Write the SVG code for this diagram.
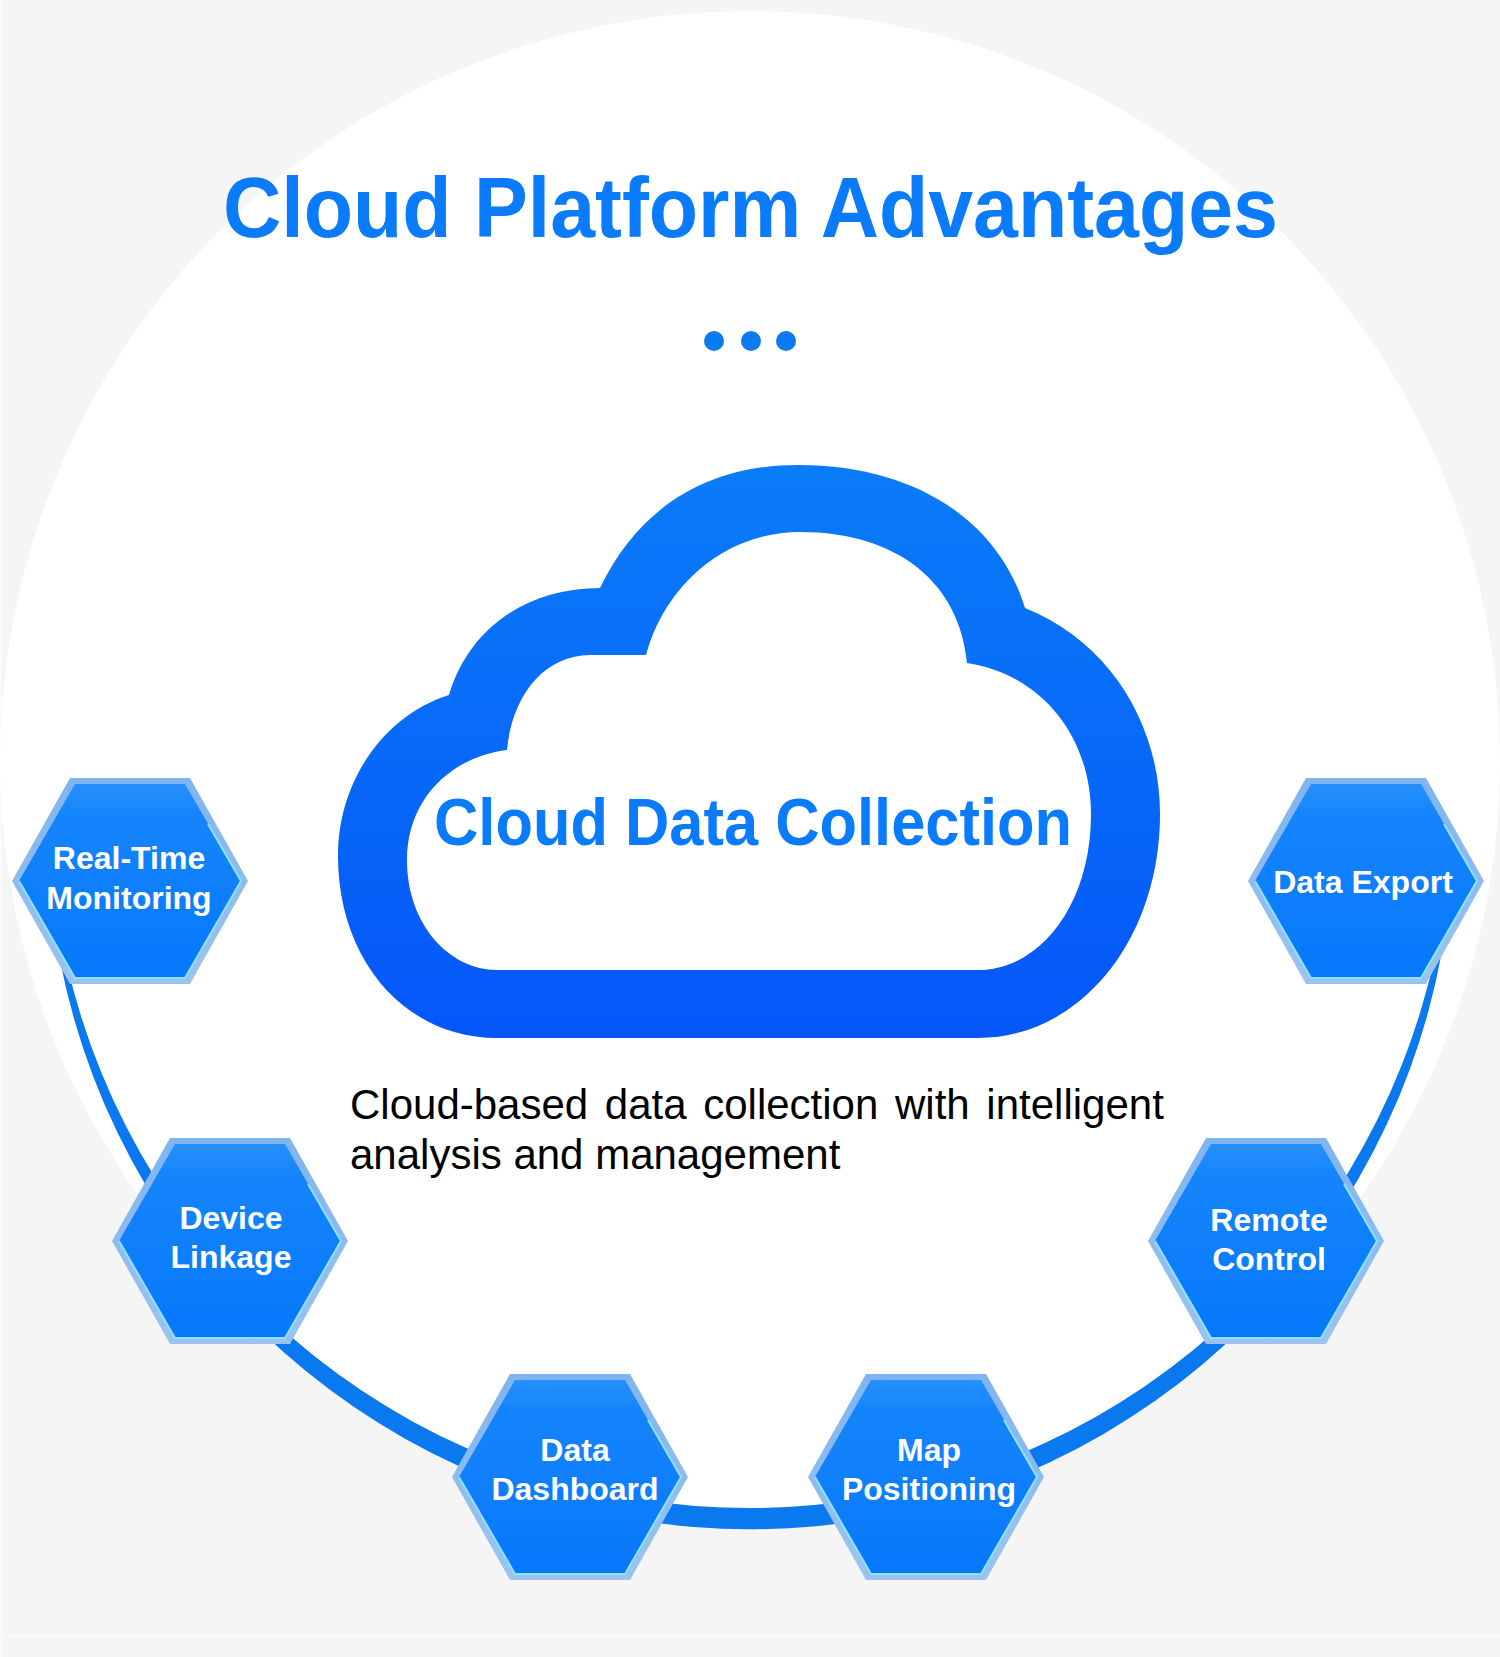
<svg xmlns="http://www.w3.org/2000/svg" width="1500" height="1657" viewBox="0 0 1500 1657">
<style>
text{font-family:"Liberation Sans",Arial,sans-serif}
.lbl{font-size:32px;font-weight:700;fill:#fff;text-anchor:middle}
.hl{fill:none;stroke:#8fe2ff;stroke-width:2}
.head{font-weight:700;fill:#0a7bfa;text-anchor:middle}
</style>
<defs>
<linearGradient id="hexFill" x1="0" y1="0" x2="0" y2="1"><stop offset="0" stop-color="#2690fc"/><stop offset="0.12" stop-color="#1a88fc"/><stop offset="0.13" stop-color="#1685fc"/><stop offset="1" stop-color="#0678fb"/></linearGradient>
<linearGradient id="edgeFill" x1="0" y1="0" x2="0" y2="1"><stop offset="0" stop-color="#7fb4f2"/><stop offset="1" stop-color="#9cc3ee"/></linearGradient>
<linearGradient id="cloudFill" x1="0" y1="0" x2="0" y2="1"><stop offset="0" stop-color="#0a7cf9"/><stop offset="1" stop-color="#0556f8"/></linearGradient>
<g id="hex">
<polygon points="-118,0 -60,-103 60,-103 118,0 60,103 -60,103" fill="url(#edgeFill)"/>
<polygon points="-111,0 -55,-97 55,-97 111,0 55,97 -55,97" fill="url(#hexFill)"/>
<polyline class="hl" points="-111,0 -55,97 55,97 111,0 78,-57"/>
</g>
</defs>
<rect id="background" width="1500" height="1657" fill="#f5f5f6"/>
<rect x="0" y="0" width="2" height="1657" fill="#fafafa"/>
<rect x="0" y="1634" width="1500" height="3" fill="#f9f9f9"/>
<circle id="disc" cx="750" cy="761" r="750" fill="#fff"/>
<text class="head" x="750.5" y="237" font-size="86" textLength="1055" lengthAdjust="spacingAndGlyphs">Cloud Platform Advantages</text>
<g id="dots" fill="#0a7bf0"><circle cx="714" cy="341" r="10"/><circle cx="751" cy="341" r="10"/><circle cx="786" cy="341" r="10"/></g>
<g id="connectors"><path d="M60,960 A703,703 0 0 0 1442,951 L1436,951 A700.9,700.9 0 0 1 66,960 Z" fill="#0a78ee"/></g>
<g id="cloud">
<path fill-rule="evenodd" fill="url(#cloudFill)" d="M600,588 C640,505 710,465 798,465 C920,465 1000,525 1025,608 C1110,642 1160,725 1160,814 C1160,940 1080,1038 978,1038 L497,1038 C405,1038 338,960 338,856 C338,780 385,715 449,695 C470,625 530,588 600,588 Z M646,655 L590,655 C545,655 512,695 507,750 C450,757 407,800 407,860 C407,925 450,970 497,970 L978,970 C1040,970 1091,905 1091,814 C1091,740 1045,675 967,663 C960,585 900,532 800,532 C725,532 665,585 646,655 Z"/>
<text class="head" x="753" y="845" font-size="66" textLength="638" lengthAdjust="spacingAndGlyphs">Cloud Data Collection</text>
</g>
<text id="description" font-size="42" fill="#000"><tspan x="350" y="1119" word-spacing="5">Cloud-based data collection with intelligent</tspan><tspan x="350" y="1169">analysis and management</tspan></text>
<g id="node-realtime"><use href="#hex" x="130" y="881"/><text class="lbl" x="129" y="869">Real-Time</text><text class="lbl" x="129" y="909">Monitoring</text></g>
<g id="node-export"><use href="#hex" x="1366" y="881"/><text class="lbl" x="1363" y="893">Data Export</text></g>
<g id="node-device"><use href="#hex" x="230" y="1241"/><text class="lbl" x="231" y="1229">Device</text><text class="lbl" x="231" y="1268">Linkage</text></g>
<g id="node-remote"><use href="#hex" x="1266" y="1241"/><text class="lbl" x="1269" y="1231">Remote</text><text class="lbl" x="1269" y="1270">Control</text></g>
<g id="node-dashboard"><use href="#hex" x="570" y="1477"/><text class="lbl" x="575" y="1461">Data</text><text class="lbl" x="575" y="1500">Dashboard</text></g>
<g id="node-map"><use href="#hex" x="926" y="1477"/><text class="lbl" x="929" y="1461">Map</text><text class="lbl" x="929" y="1500">Positioning</text></g>
</svg>
